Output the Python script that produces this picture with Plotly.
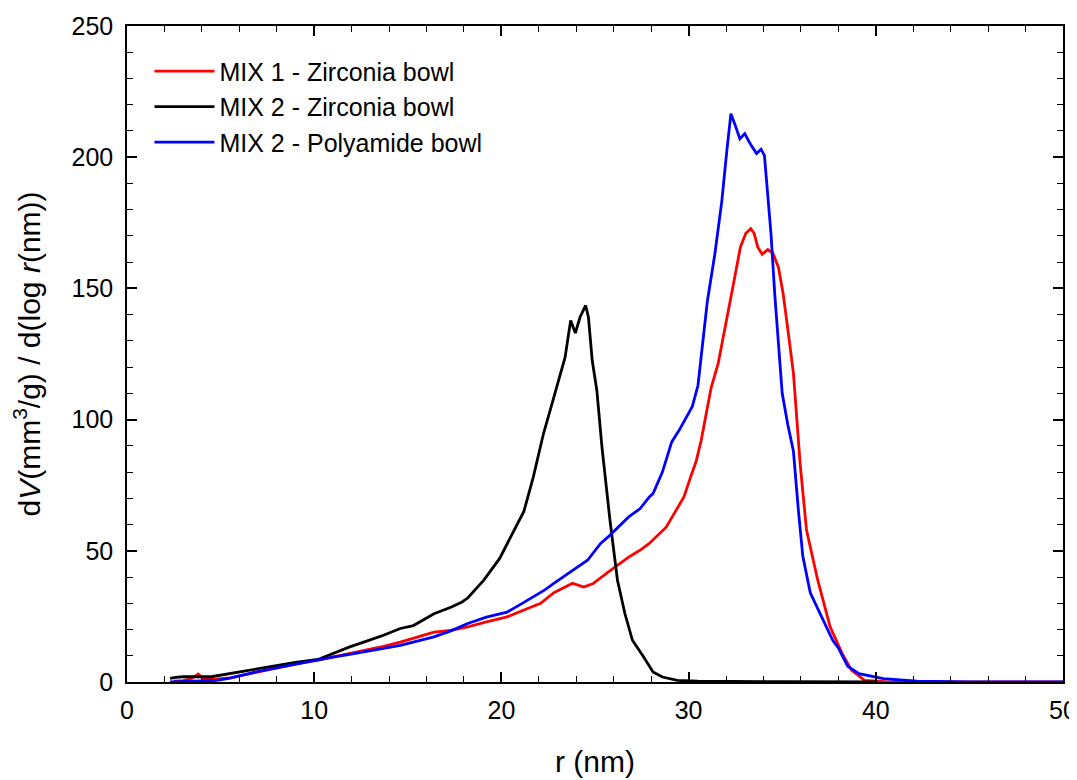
import plotly.graph_objects as go

# ---- data ----
r_mix1_zr = [2.5, 3.0, 3.5, 3.8, 4.1, 4.6, 5.5, 6.1, 7.0, 8.4, 9.3, 10.2, 11.0, 11.9, 12.8,
             13.7, 14.6, 15.5, 16.4, 17.3, 18.2, 19.2, 20.3, 21.4, 22.1, 22.8, 23.3, 23.8,
             24.4, 24.9, 25.7, 26.8, 27.4, 27.9, 28.8, 29.75, 30.1, 30.4, 30.67, 30.94,
             31.2, 31.58, 32.04, 32.4, 32.77, 33.05, 33.32, 33.5, 33.69, 33.93, 34.23,
             34.51, 34.8, 35.05, 35.33, 35.6, 35.96, 36.3, 36.9, 37.56, 38.2, 38.7, 39.4,
             40.5, 44.0, 50.0]
v_mix1_zr = [0.3, 0.5, 1.5, 3.0, 1.0, 1.0, 1.6, 2.5, 4.0, 6.0, 7.3, 8.3, 9.5, 10.8, 12.0,
             13.6, 15.2, 17.0, 19.0, 19.7, 21.0, 22.9, 24.8, 28.0, 30.0, 34.0, 35.7, 37.6,
             36.2, 37.5, 41.9, 47.6, 50.2, 52.8, 59.0, 70.5, 78.0, 84.0, 92.0, 102.0,
             112.0, 121.4, 137.8, 151.9, 165.8, 170.9, 172.8, 171.0, 165.8, 163.0, 164.8,
             163.3, 158.0, 148.0, 132.8, 117.6, 83.0, 57.8, 38.8, 21.0, 10.9, 4.5, 0.6,
             0.1, 0.0, 0.0]

r_mix2_zr = [2.3, 2.6, 3.0, 3.5, 4.0, 4.5, 5.0, 5.5, 6.0, 7.0, 8.0, 9.0, 10.2, 11.0, 11.9,
             12.8, 13.7, 14.6, 15.3, 16.4, 17.3, 17.9, 18.2, 19.05, 19.9, 20.6, 21.2, 21.7,
             22.25, 22.8, 23.1, 23.4, 23.7, 23.95, 24.2, 24.5, 24.65, 24.85, 25.1, 25.37,
             25.8, 26.2, 26.6, 27.0, 27.6, 28.1, 28.6, 29.4, 30.5, 32.0, 35.0, 40.0]
v_mix2_zr = [1.4, 1.8, 2.0, 2.1, 2.0, 2.0, 2.6, 3.2, 3.7, 5.0, 6.3, 7.5, 8.6, 11.0, 13.4,
             15.6, 17.8, 20.4, 21.5, 26.0, 28.5, 30.5, 32.0, 38.7, 47.0, 56.7, 65.0, 78.0,
             94.7, 108.5, 116.0, 123.7, 137.8, 133.0, 139.0, 143.5, 139.0, 122.6, 111.0,
             89.6, 61.6, 38.8, 26.0, 15.9, 9.5, 3.8, 1.9, 0.6, 0.3, 0.2, 0.1, 0.0]

r_mix2_pa = [2.3, 3.0, 4.0, 4.8, 5.5, 6.1, 7.0, 8.4, 9.3, 10.2, 11.0, 11.9, 12.8, 13.7,
             14.6, 15.5, 16.4, 17.3, 18.2, 19.2, 20.3, 21.0, 21.7, 22.3, 22.8, 23.85, 24.6,
             25.3, 25.7, 26.8, 27.4, 27.9, 28.1, 28.6, 29.1, 29.5, 29.9, 30.2, 30.5, 30.7,
             31.0, 31.4, 31.77, 32.05, 32.26, 32.5, 32.74, 33.0, 33.3, 33.63, 33.87, 34.05,
             34.23, 34.4, 34.6, 34.8, 35.0, 35.3, 35.6, 35.87, 36.1, 36.5, 37.2, 37.7, 38.0,
             38.5, 39.1, 40.4, 42.2, 45.0, 50.0]
v_mix2_pa = [0.0, 0.1, 0.3, 0.6, 1.5, 2.5, 4.0, 6.0, 7.3, 8.6, 9.5, 10.5, 11.6, 12.8, 14.0,
             15.6, 17.2, 19.5, 22.3, 24.7, 26.6, 29.5, 32.3, 35.0, 37.6, 42.6, 46.4, 52.8,
             55.3, 62.9, 66.0, 70.5, 71.8, 80.0, 91.5, 96.0, 101.0, 105.0, 113.0, 125.0,
             145.0, 163.0, 183.0, 203.0, 216.6, 212.0, 207.0, 209.0, 205.0, 201.4, 203.0,
             200.7, 183.6, 171.0, 148.0, 128.0, 110.0, 98.0, 88.0, 65.0, 48.0, 34.0, 23.5,
             15.9, 13.0, 6.0, 3.2, 1.3, 0.3, 0.0, 0.0]

series_names = ["MIX 1 - Zirconia bowl", "MIX 2 - Zirconia bowl", "MIX 2 - Polyamide bowl"]
series_colors = ["#ff0000", "#000000", "#0000ff"]

x_ticks = [0, 10, 20, 30, 40, 50]
y_ticks = [0, 50, 100, 150, 200, 250]

FONT = "Arial, Liberation Sans, sans-serif"

fig = go.Figure()
for i, (xs, ys) in enumerate([(r_mix1_zr, v_mix1_zr), (r_mix2_zr, v_mix2_zr), (r_mix2_pa, v_mix2_pa)]):
    fig.add_trace(go.Scatter(
        x=xs, y=ys, mode="lines", name=series_names[i],
        line=dict(color=series_colors[i], width=2.8),
    ))

axis_common = dict(
    showgrid=False, zeroline=False, showline=True, linecolor="black", linewidth=1.5,
    mirror="allticks", ticks="inside", ticklen=10, tickwidth=1.5, tickcolor="black",
    tickfont=dict(family=FONT, size=25, color="black"), automargin=False,
)

fig.update_xaxes(
    range=[0, 50], tickvals=x_ticks, ticklabelstandoff=5,
    minor=dict(dtick=2, ticks="inside", ticklen=6, tickwidth=1.2, tickcolor="black", showgrid=False),
    title=dict(text="r (nm)", font=dict(family=FONT, size=30, color="black"), standoff=28),
    **axis_common,
)
fig.update_yaxes(
    range=[0, 250], tickvals=y_ticks, ticklabelstandoff=7,
    minor=dict(dtick=10, ticks="inside", ticklen=6, tickwidth=1.2, tickcolor="black", showgrid=False),
    title=dict(text="d<i>V</i>(mm<sup>3</sup>/g) / d(log <i>r</i>(nm))",
               font=dict(family=FONT, size=30, color="black"), standoff=22),
    **axis_common,
)

fig.update_layout(
    width=1069, height=772,
    margin=dict(l=119, r=14, t=18, b=98),
    paper_bgcolor="white", plot_bgcolor="white",
    showlegend=True,
    legend=dict(
        x=0.024, y=0.966, xanchor="left", yanchor="top",
        bgcolor="rgba(0,0,0,0)", borderwidth=0,
        font=dict(family=FONT, size=25, color="black"),
        itemwidth=60,
    ),
)

fig.write_html("out.html")
